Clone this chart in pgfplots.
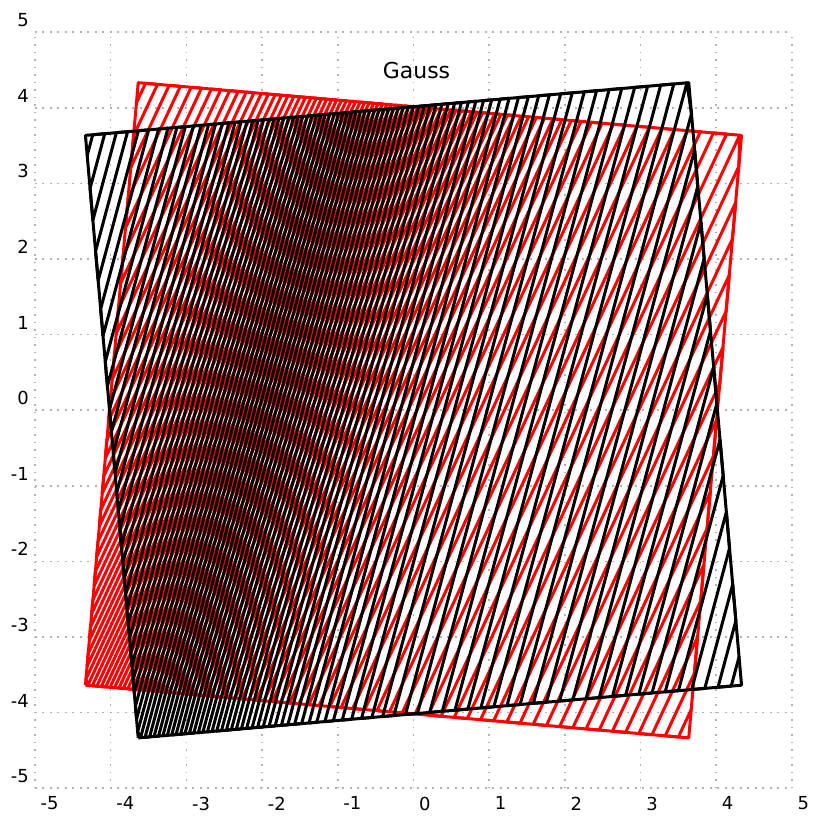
\documentclass[border=0pt]{standalone}
\usepackage{fontspec}
\setmainfont{DejaVu Sans}
\usepackage{pgfplots}
\usepackage{pgfplotstable}
\pgfplotsset{compat=1.18}
% zigzag hatch vertices in the square's own frame (square [-4,4]^2)
\pgfplotstableread{
x y
-4 3.733
-3.903 4
-3.744 4
-4 3.296
-4 2.873
-3.590 4
-3.441 4
-4 2.464
-4 2.071
-3.298 4
-3.161 4
-4 1.695
-4 1.336
-3.030 4
-2.906 4
-4 0.994
-4 0.669
-2.787 4
-2.675 4
-4 0.359
-4 0.064
-2.567 4
-2.465 4
-4 -0.217
-4 -0.486
-2.367 4
-2.274 4
-4 -0.743
-4 -0.989
-2.184 4
-2.098 4
-4 -1.226
-4 -1.454
-2.015 4
-1.935 4
-4 -1.674
-4 -1.888
-1.857 4
-1.782 4
-4 -2.094
-4 -2.295
-1.709 4
-1.638 4
-4 -2.490
-4 -2.681
-1.568 4
-1.500 4
-4 -2.868
-4 -3.050
-1.434 4
-1.369 4
-4 -3.229
-4 -3.405
-1.305 4
-1.241 4
-4 -3.579
-4 -3.749
-1.179 4
-1.118 4
-4 -3.918
-3.969 -4
-1.057 4
-0.997 4
-3.909 -4
-3.849 -4
-0.937 4
-0.878 4
-3.790 -4
-3.731 -4
-0.819 4
-0.761 4
-3.673 -4
-3.614 -4
-0.702 4
-0.644 4
-3.556 -4
-3.498 -4
-0.586 4
-0.527 4
-3.439 -4
-3.381 -4
-0.469 4
-0.410 4
-3.322 -4
-3.263 -4
-0.351 4
-0.291 4
-3.203 -4
-3.143 -4
-0.231 4
-0.170 4
-3.082 -4
-3.021 -4
-0.109 4
-0.047 4
-2.959 -4
-2.896 -4
0.017 4
0.081 4
-2.831 -4
-2.766 -4
0.146 4
0.212 4
-2.700 -4
-2.632 -4
0.280 4
0.350 4
-2.563 -4
-2.491 -4
0.421 4
0.494 4
-2.418 -4
-2.343 -4
0.569 4
0.647 4
-2.266 -4
-2.185 -4
0.727 4
0.810 4
-2.102 -4
-2.016 -4
0.896 4
0.986 4
-1.926 -4
-1.833 -4
1.079 4
1.177 4
-1.735 -4
-1.633 -4
1.279 4
1.387 4
-1.525 -4
-1.413 -4
1.499 4
1.618 4
-1.294 -4
-1.170 -4
1.742 4
1.873 4
-1.039 -4
-0.902 -4
2.010 4
2.153 4
-0.759 -4
-0.610 -4
2.302 4
2.456 4
-0.456 -4
-0.297 -4
2.615 4
2.778 4
-0.134 -4
0.032 -4
2.944 4
3.112 4
0.200 -4
0.371 -4
3.283 4
3.455 4
0.543 -4
0.716 -4
3.628 4
3.802 4
0.890 -4
1.064 -4
3.976 4
4 3.587
1.239 -4
1.413 -4
4 3.107
4 2.626
1.588 -4
1.763 -4
4 2.145
4 1.664
1.938 -4
2.113 -4
4 1.184
4 0.703
2.288 -4
2.463 -4
4 0.222
4 -0.259
2.638 -4
2.813 -4
4 -0.740
4 -1.220
2.988 -4
3.163 -4
4 -1.701
4 -2.182
3.338 -4
3.513 -4
4 -2.663
4 -3.143
3.688 -4
3.863 -4
4 -3.624
}\zig
\pgfplotstableread{
x y
-4 -4
4 -4
4 4
-4 4
-4 -4
}\sq
\begin{document}
\begin{tikzpicture}
\begin{axis}[
  scale only axis,
  width=757bp, height=756bp,
  xmin=-5, xmax=5, ymin=-5, ymax=5,
  clip=false,
  axis line style={draw=none},
  tick style={draw=none},
  xtick={-5,-4,-3,-2,-1,0,1,2,3,4,5},
  ytick={-5,-4,-3,-2,-1,0,1,2,3,4,5},
  grid=major,
  grid style={line width=1.6bp, color=black!30, dash pattern=on 1.6bp off 5.9bp},
  /pgf/number format/assume math mode=true,
  ticklabel style={font=\fontsize{18}{21}\selectfont, inner sep=0pt},
  xticklabel style={anchor=north west, xshift=5.5bp, yshift=-8.4bp},
  yticklabel style={anchor=base east, xshift=-6bp, yshift=5.5bp},
]
\path (axis cs:-5.462,-5.393) rectangle (axis cs:5.291,5.427);
% red square: rotated by -5 degrees
\addplot[red, line width=3bp, line join=round, line cap=round]
  table[x expr=\thisrow{x}*0.99619+\thisrow{y}*0.08716,
        y expr=-\thisrow{x}*0.08716+\thisrow{y}*0.99619] {\zig};
\addplot[red, line width=3bp, line join=round]
  table[x expr=\thisrow{x}*0.99619+\thisrow{y}*0.08716,
        y expr=-\thisrow{x}*0.08716+\thisrow{y}*0.99619] {\sq};
% black square: rotated by +5 degrees
\addplot[black, line width=3bp, line join=round, line cap=round]
  table[x expr=\thisrow{x}*0.99619-\thisrow{y}*0.08716,
        y expr=\thisrow{x}*0.08716+\thisrow{y}*0.99619] {\zig};
\addplot[black, line width=3bp, line join=round]
  table[x expr=\thisrow{x}*0.99619-\thisrow{y}*0.08716,
        y expr=\thisrow{x}*0.08716+\thisrow{y}*0.99619] {\sq};
\node[anchor=base, font=\fontsize{22}{26}\selectfont, inner sep=0pt] at (axis cs:0.04,4.39) {Gauss};
\end{axis}
\end{tikzpicture}
\end{document}
